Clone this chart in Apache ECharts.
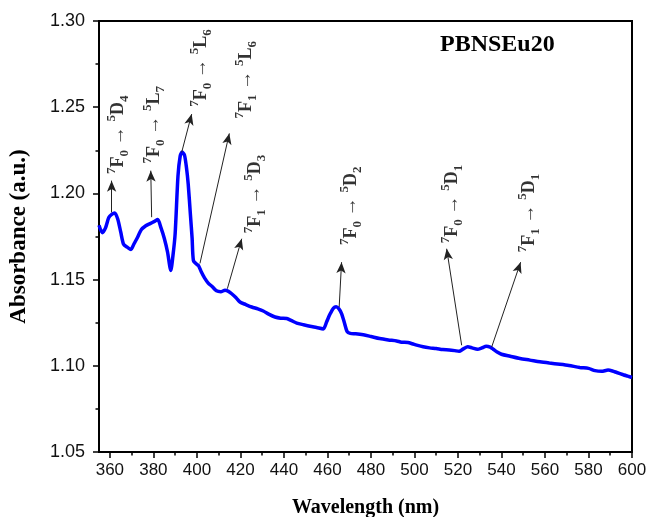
<!DOCTYPE html>
<html>
<head>
<meta charset="utf-8">
<script src="https://cdn.jsdelivr.net/npm/echarts@6/dist/echarts.min.js"></script>
<style>html,body{margin:0;padding:0;background:#fff;}#c{width:649px;height:517px;}</style>
</head>
<body>
<div id="c"></div>
<script>
const wavelength = [355,356.5,358,359.5,361,362.2,363.6,365,366.3,368,369.7,371,372.5,374.5,376.5,378.5,380.5,382,383.5,385,386.5,388,389,390,391.3,392.3,393.2,394.3,395.2,396,397,397.8,398.4,399.8,400.8,402,403.5,405.2,407,409,411,412.9,414.5,416,418,419.8,422.5,425.2,428,430.5,433,435.9,438.5,441.3,443.5,445.9,449,452,455,458.1,459.6,461.2,462.8,464,465.3,466.5,467.8,469,470.5,473,476.5,480,484,488,491.8,494,497,499,501,504,507,510,513,516,518.5,520.5,522.5,524.5,526.5,529,531,533,534.8,536.2,538,540,544,548.5,553,557.7,562,566.9,571,576,580,583,586,589,591,593,596,598,600];
const absorbance = [1.1815,1.1772,1.1800,1.1860,1.1880,1.1887,1.1852,1.1775,1.1705,1.1688,1.1675,1.1705,1.1740,1.1790,1.1812,1.1825,1.1838,1.1848,1.1800,1.1740,1.1660,1.1553,1.1640,1.1766,1.2100,1.2215,1.2240,1.2222,1.2150,1.2055,1.1880,1.1740,1.1610,1.1590,1.1580,1.1545,1.1510,1.1480,1.1460,1.1435,1.1430,1.1438,1.1432,1.1418,1.1395,1.1370,1.1355,1.1341,1.1330,1.1318,1.1300,1.1283,1.1276,1.1274,1.1262,1.1248,1.1238,1.1229,1.1222,1.1214,1.1254,1.1300,1.1335,1.1342,1.1330,1.1303,1.1250,1.1200,1.1188,1.1186,1.1180,1.1170,1.1158,1.1150,1.1144,1.1137,1.1135,1.1128,1.1120,1.1110,1.1104,1.1100,1.1094,1.1092,1.1088,1.1084,1.1098,1.1110,1.1104,1.1096,1.1104,1.1113,1.1108,1.1096,1.1080,1.1067,1.1055,1.1042,1.1033,1.1023,1.1016,1.1009,1.1002,1.0990,1.0985,1.0972,1.0968,1.0975,1.0970,1.0961,1.0948,1.0940,1.0932];

const xTickValues = [360,380,400,420,440,460,480,500,520,540,560,580,600];
const xMinorTickValues = [370,390,410,430,450,470,490,510,530,550,570,590];

const annotationText = [
  '{p|7}{b|F}{s|0}{a| → }{p|5}{b|D}{s|4}',
  '{p|7}{b|F}{s|0}{a| → }{p|5}{b|L}{s|7}',
  '{p|7}{b|F}{s|0}{a| → }{p|5}{b|L}{s|6}',
  '{p|7}{b|F}{s|1}{a| → }{p|5}{b|L}{s|6}',
  '{p|7}{b|F}{s|1}{a| → }{p|5}{b|D}{s|3}',
  '{p|7}{b|F}{s|0}{a| → }{p|5}{b|D}{s|2}',
  '{p|7}{b|F}{s|0}{a| → }{p|5}{b|D}{s|1}',
  '{p|7}{b|F}{s|1}{a| → }{p|5}{b|D}{s|1}'
];
const arrowFrom = [[360.8,1.189],[379.2,1.1862],[393.0,1.2238],[401.4,1.1594],[414.0,1.1447],[465.4,1.1341],[521.7,1.1119],[535.5,1.1109]];
const arrowTo   = [[360.8,1.2074],[378.8,1.2132],[397.6,1.246],[414.9,1.2348],[420.6,1.1737],[466.5,1.1601],[514.8,1.1679],[548.8,1.1601]];
const labelAt   = [[364.0,1.234],[380.3,1.2398],[402.1,1.2728],[422.6,1.2659],[426.7,1.1996],[470.8,1.1929],[517.5,1.1938],[552.6,1.1886]];

const chart = echarts.init(document.getElementById('c'), null, {renderer: 'canvas'});
const serif = 'Liberation Serif';
const sans = 'Liberation Sans';

chart.setOption({
  animation: false,
  backgroundColor: '#fff',
  title: {
    text: 'PBNSEu20',
    left: 435, top: 28,
    textStyle: {fontFamily: serif, fontWeight: 'bold', fontSize: 24, color: '#000'}
  },
  grid: {left: 99, right: 17, top: 21, bottom: 65, outerBoundsMode: 'none', containLabel: false, show: true, borderColor: '#000', borderWidth: 2, backgroundColor: 'transparent'},
  xAxis: [{
    type: 'value', min: 355, max: 600,
    name: 'Wavelength (nm)', nameLocation: 'middle', nameGap: 46,
    nameTextStyle: {fontFamily: serif, fontWeight: 'bold', fontSize: 20, color: '#000'},
    axisLine: {show: true, lineStyle: {color: '#000', width: 2}},
    axisTick: {show: true, inside: false, length: 6, customValues: xTickValues, lineStyle: {color: '#000', width: 1.5}},
    axisLabel: {customValues: xTickValues, margin: 10, fontFamily: sans, fontSize: 17, color: '#111'},
    splitLine: {show: false}
  }, {
    type: 'value', min: 355, max: 600, position: 'bottom',
    axisLine: {show: false},
    axisTick: {show: true, inside: false, length: 3.5, customValues: xMinorTickValues, lineStyle: {color: '#000', width: 1.5}},
    axisLabel: {show: false},
    splitLine: {show: false}
  }],
  yAxis: {
    type: 'value', min: 1.05, max: 1.30, interval: 0.05,
    name: 'Absorbance (a.u.)', nameLocation: 'middle', nameGap: 68, nameRotate: 90,
    nameTextStyle: {fontFamily: serif, fontWeight: 'bold', fontSize: 23, color: '#000'},
    axisLine: {show: true, lineStyle: {color: '#000', width: 2}},
    axisTick: {show: true, inside: false, length: 6, lineStyle: {color: '#000', width: 1.5}},
    minorTick: {show: true, splitNumber: 2, length: 3.5, lineStyle: {color: '#000', width: 1.5}},
    axisLabel: {margin: 14, fontFamily: sans, fontSize: 18, color: '#111', formatter: v => v.toFixed(2)},
    splitLine: {show: false}
  },
  series: [{
    type: 'line',
    xAxisIndex: 0,
    data: wavelength.map((w, i) => [w, absorbance[i]]),
    showSymbol: false,
    smooth: 0.25,
    lineStyle: {color: '#0000FF', width: 3.5},
    silent: true,
    markLine: {
      silent: true,
      symbol: ['none', 'arrow'],
      symbolSize: [7, 11],
      label: {show: false},
      lineStyle: {color: '#222', width: 1, type: 'solid'},
      emphasis: {disabled: true},
      data: arrowFrom.map((f, i) => [{coord: f}, {coord: arrowTo[i]}])
    }
  }, {
    type: 'scatter',
    xAxisIndex: 0,
    symbolSize: 0,
    silent: true,
    data: labelAt,
    label: {
      show: true,
      position: 'inside',
      rotate: 90,
      formatter: p => annotationText[p.dataIndex],
      rich: {
        b: {fontFamily: serif, fontWeight: 'bold', fontSize: 18, color: '#000', lineHeight: 26, verticalAlign: 'middle'},
        p: {fontFamily: serif, fontWeight: 'bold', fontSize: 13, color: '#000', verticalAlign: 'top'},
        s: {fontFamily: serif, fontWeight: 'bold', fontSize: 13, color: '#000', verticalAlign: 'bottom'},
        a: {fontFamily: serif, fontSize: 19, color: '#000', verticalAlign: 'middle'}
      }
    }
  }]
});
</script>
</body>
</html>
